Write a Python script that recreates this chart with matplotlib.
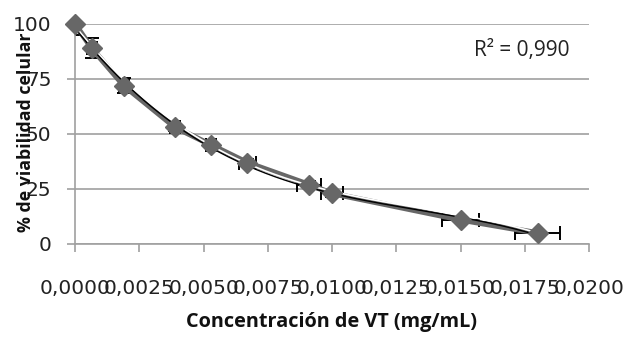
import numpy as np
import matplotlib
matplotlib.use("Agg")
import matplotlib.pyplot as plt
from matplotlib.ticker import FixedLocator, FuncFormatter

# concentracion VT (mg/mL) vs % viabilidad
conc = [0.0, 0.00065, 0.0019, 0.0039, 0.0053, 0.0067, 0.0091, 0.0100, 0.0150, 0.0180]
viab = [100, 89, 72, 53, 45, 37, 27, 23, 11, 5]
viab_err = [5, 4.5, 3.5, 1.5, 1.5, 1.5, 1.5, 1.5, 1, 1]
conc_err = [0.0002, 0.0002, 0.0002, 0.0002, 0.0002, 0.00033, 0.00047, 0.00043, 0.00072, 0.00087]
r2_text = "R² = 0,990"

x_ticks = [0.0, 0.0025, 0.005, 0.0075, 0.01, 0.0125, 0.015, 0.0175, 0.02]
y_ticks = [0, 25, 50, 75, 100]

grey = "#676767"
axis_grey = "#a0a0a0"

fig = plt.figure(figsize=(6.25, 3.37), dpi=100)
ax = fig.add_axes([0.12, 0.276, 0.8224, 0.6528])

ax.errorbar(conc, viab, yerr=viab_err, xerr=conc_err, fmt="none",
            ecolor="black", elinewidth=1.4, capsize=5, capthick=1.4, zorder=2)
ax.plot(conc, viab, color=grey, lw=4, zorder=3)

# trend line (polynomial fit of the data)
coef = np.polyfit(conc, viab, 3)
xs = np.linspace(0, max(conc), 200)
ax.plot(xs, np.polyval(coef, xs) + 0.7, color="white", lw=1.2, zorder=4)
ax.plot(xs, np.polyval(coef, xs) - 0.3, color="black", lw=1.0, zorder=4)

ax.plot(conc, viab, ls="none", marker="D", markersize=10,
        markerfacecolor=grey, markeredgecolor=grey, zorder=5, clip_on=False)

ax.set_xlim(0, 0.02)
ax.set_ylim(0, 100)
ax.xaxis.set_major_locator(FixedLocator(x_ticks))
ax.yaxis.set_major_locator(FixedLocator(y_ticks))
ax.xaxis.set_major_formatter(FuncFormatter(lambda v, p: f"{v:.4f}".replace(".", ",")))
ax.yaxis.set_major_formatter(FuncFormatter(lambda v, p: f"{v:.0f}"))

ax.grid(axis="y", color=axis_grey, lw=1.2)
ax.set_axisbelow(True)
for s in ["top", "right"]:
    ax.spines[s].set_visible(False)
for s in ["left", "bottom"]:
    ax.spines[s].set_color(axis_grey)
    ax.spines[s].set_linewidth(1.2)
ax.tick_params(axis="both", direction="out", length=6, width=1.2, color=axis_grey,
               labelsize=14.5, labelcolor="#222222")
ax.tick_params(axis="y", pad=11)
ax.tick_params(axis="x", pad=19)
for lab in ax.get_xticklabels() + ax.get_yticklabels():
    lab.set_family("DejaVu Sans")

ax.set_xlabel("Concentración de VT (mg/mL)", fontsize=14.3, fontweight="bold",
              family="Open Sans", color="#111111")
ax.set_ylabel("% de viabilidad celular", fontsize=12.8, fontweight="bold",
              family="Open Sans", color="#111111")
ax.xaxis.set_label_coords(0.5, -0.31)
ax.yaxis.set_label_coords(-0.078, 0.51)

ax.text(0.962, 0.88, r2_text, transform=ax.transAxes, ha="right", va="center",
        fontsize=15, family="Open Sans", color="#222222")

fig.savefig("out.png", dpi=100)
